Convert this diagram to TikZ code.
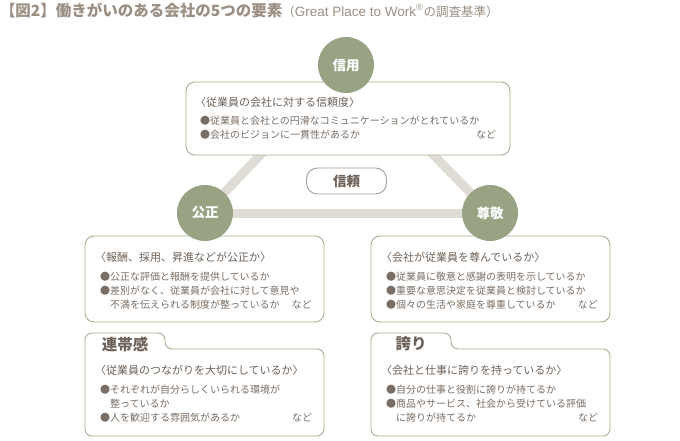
\documentclass[tikz,border=0pt]{standalone}
\usepackage{fontspec}
\setmainfont{Noto Sans CJK JP}
\newfontfamily\latinfont{Liberation Sans}
\usetikzlibrary{positioning, calc, backgrounds}

\definecolor{pillargreen}{RGB}{151,163,130}
\definecolor{cardline}{RGB}{168,174,146}
\definecolor{bandgray}{RGB}{223,220,214}
\definecolor{titletext}{RGB}{155,143,132}
\definecolor{headtext}{RGB}{110,98,88}
\definecolor{bodytext}{RGB}{122,110,100}
\definecolor{tagline}{RGB}{165,155,145}

\begin{document}
\begin{tikzpicture}[
    x=1pt, y=1pt,
    every node/.style={inner sep=0pt, outer sep=0pt},
    pillar/.style={circle, fill=pillargreen, minimum size=56pt, text=white, font=\bfseries\fontsize{13.5}{14}\selectfont},
    card/.style={rectangle, draw=cardline, fill=white, line width=0.9pt, rounded corners=9pt},
    frame/.style={rectangle, minimum width=239pt, minimum height=87pt},
    tab/.style={rectangle, minimum width=80pt, minimum height=22pt, anchor=north west, text=headtext, font=\bfseries\fontsize{15.5}{16}\selectfont},
    heading/.style={anchor=west, text=headtext, font=\fontsize{11}{12}\selectfont},
    items/.style={anchor=north west, align=left, text width=#1, text=bodytext, font=\fontsize{10}{14}\selectfont},
    band/.style={draw=bandgray, line width=9pt},
    tag/.style={rectangle, draw=tagline, line width=0.9pt, rounded corners=11pt, minimum width=80pt, minimum height=26pt, text=headtext, font=\bfseries\fontsize{13.5}{14}\selectfont}
  ]
  \useasboundingbox (0,0) rectangle (680,-440);

  % Title
  \node (title) [anchor=west, text=titletext] at (0,-10) {{\bfseries\fontsize{15.5}{16}\selectfont 【図2】働きがいのある会社の5つの要素}{\fontsize{12.5}{13}\selectfont （{\latinfont\fontsize{13.5}{14}\selectfont Great Place to Work\textsuperscript{®}}の調査基準）}};

  % Cards
  \node (credcard) [card, minimum width=324pt, minimum height=73pt] at (348,-118.5) {};
  \node (faircard) [card, minimum width=239pt, minimum height=86pt] at (204.5,-279) {};
  \node (respcard) [card, minimum width=239pt, minimum height=86pt] at (490.5,-279) {};
  \node (teamframe) [frame] at (204.5,-392.5) {};
  \node (prideframe) [frame] at (490.5,-392.5) {};
  \node (teamtab) [tab] at (teamframe.north west |- 0,-333) {連帯感};
  \node (pridetab) [tab] at (prideframe.north west |- 0,-333) {誇り};
  \draw [cardline, line width=0.9pt, rounded corners=7pt] (teamframe.south west) -- (teamtab.north west) -- (teamtab.north east) -- (teamtab.north east |- teamframe.north) -- (teamframe.north east) -- (teamframe.south east) -- cycle;
  \draw [cardline, line width=0.9pt, rounded corners=7pt] (prideframe.south west) -- (pridetab.north west) -- (pridetab.north east) -- (pridetab.north east |- prideframe.north) -- (prideframe.north east) -- (prideframe.south east) -- cycle;

  % Card texts
  \node (credhead) [heading] at ($(credcard.north west)+(9,-20)$) {〈従業員の会社に対する信頼度〉};
  \node (creditems) [items=296pt] at ($(credcard.north west)+(14,-34.5)$) {●従業員と会社との円滑なコミュニケーションがとれているか\\●会社のビジョンに一貫性があるか\hfill など};
  \node (fairhead) [heading] at ($(faircard.north west)+(10,-21)$) {〈報酬、採用、昇進などが公正か〉};
  \node (fairitems) [items=212pt] at ($(faircard.north west)+(15,-36.5)$) {●公正な評価と報酬を提供しているか\\●差別がなく、従業員が会社に対して意見や\\\hspace*{1em}不満を伝えられる制度が整っているか\hfill など};
  \node (resphead) [heading] at ($(respcard.north west)+(10,-21)$) {〈会社が従業員を尊んでいるか〉};
  \node (respitems) [items=212pt] at ($(respcard.north west)+(15,-36.5)$) {●従業員に敬意と感謝の表明を示しているか\\●重要な意思決定を従業員と検討しているか\\●個々の生活や家庭を尊重しているか\hfill など};
  \node (teamhead) [heading] at ($(teamframe.north west)+(10,-21)$) {〈従業員のつながりを大切にしているか〉};
  \node (teamitems) [items=212pt] at ($(teamframe.north west)+(15,-36.5)$) {●それぞれが自分らしくいられる環境が\\\hspace*{1em}整っているか\\●人を歓迎する雰囲気があるか\hfill など};
  \node (pridehead) [heading] at ($(prideframe.north west)+(10,-21)$) {〈会社と仕事に誇りを持っているか〉};
  \node (prideitems) [items=212pt] at ($(prideframe.north west)+(15,-36.5)$) {●自分の仕事と役割に誇りが持てるか\\●商品やサービス、社会から受けている評価\\\hspace*{1em}に誇りが持てるか\hfill など};

  % Pillars
  \node (credit) [pillar] at (346,-65) {信用};
  \node (fair) [pillar] at (205,-213) {公正};
  \node (respect) [pillar] at (490,-213) {尊敬};
  \node (trust) [tag] at (346.5,-181) {信頼};

  % Bands
  \begin{scope}[on background layer]
    \fill [white] (0,0) rectangle (680,-440);
    \draw [band] (credit) -- (fair);
    \draw [band] (credit) -- (respect);
    \draw [band] (fair) -- (respect);
  \end{scope}
\end{tikzpicture}
\end{document}
